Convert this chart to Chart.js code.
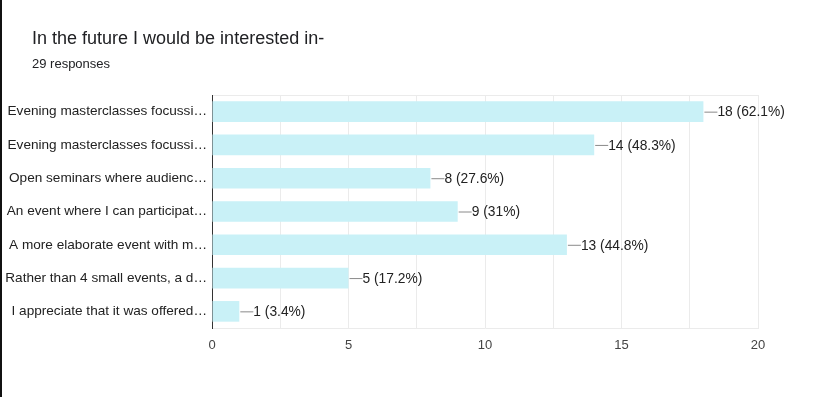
<!DOCTYPE html>
<html>
<head>
<meta charset="utf-8">
<script src="https://cdn.jsdelivr.net/npm/chart.js@4"></script>
<style>
  body { margin: 0; background: #fff; font-family: "Liberation Sans", Arial, sans-serif; }
  #wrap { position: relative; width: 835px; height: 397px; overflow: hidden; }
  #edge { position: absolute; left: 0; top: 0; width: 2px; height: 397px; background: #111; }
  #title { position: absolute; left: 32px; top: 28px; font-size: 18px; color: #202124; white-space: nowrap; }
  #sub { position: absolute; left: 32px; top: 56px; font-size: 13px; color: #202124; white-space: nowrap; }
  canvas { position: absolute; left: 0; top: 0; }
</style>
</head>
<body>
<div id="wrap">
  <canvas id="chart" width="835" height="397"></canvas>
  <div id="edge"></div>
  <div id="title">In the future I would be interested in-</div>
  <div id="sub">29 responses</div>
</div>
<script>
const categories = [
  "Evening masterclasses focussi\u2026",
  "Evening masterclasses focussi\u2026",
  "Open seminars where audienc\u2026",
  "An event where I can participat\u2026",
  "A more elaborate event with m\u2026",
  "Rather than 4 small events, a d\u2026",
  "I appreciate that it was offered\u2026"
];
const counts = [18, 14, 8, 9, 13, 5, 1];
const percents = ["62.1%", "48.3%", "27.6%", "31%", "44.8%", "17.2%", "3.4%"];
const xTicks = [0, 5, 10, 15, 20];

const fontFamily = '"Liberation Sans", Arial, sans-serif';

// draws the "—18 (62.1%)" labels after each bar
const barLabels = {
  id: "barLabels",
  afterDatasetsDraw(chart) {
    const ctx = chart.ctx;
    const meta = chart.getDatasetMeta(0);
    ctx.save();
    ctx.font = "13.8px " + fontFamily;
    ctx.textBaseline = "middle";
    meta.data.forEach((bar, i) => {
      const x = bar.x;
      const y = bar.y;
      ctx.strokeStyle = "#8a8a8a";
      ctx.lineWidth = 1;
      ctx.beginPath();
      ctx.moveTo(x + 1, y + 0.5);
      ctx.lineTo(x + 14, y + 0.5);
      ctx.stroke();
      ctx.fillStyle = "#222";
      ctx.fillText(counts[i] + " (" + percents[i] + ")", x + 14, y + 1);
    });
    ctx.restore();
  }
};

new Chart(document.getElementById("chart"), {
  type: "bar",
  data: {
    labels: categories,
    datasets: [
      {
        data: counts,
        backgroundColor: "#c9f1f7",
        borderWidth: 0,
        barPercentage: 0.62,
        categoryPercentage: 1
      }
    ]
  },
  options: {
    indexAxis: "y",
    responsive: false,
    animation: false,
    layout: { padding: { top: 95, right: 77, bottom: 0, left: 0 } },
    plugins: {
      legend: { display: false },
      tooltip: { enabled: false }
    },
    scales: {
      x: {
        min: 0,
        max: 20,
        afterFit: (scale) => { scale.height = 69; },
        ticks: {
          stepSize: 2.5,
          autoSkip: false,
          maxRotation: 0,
          padding: 10,
          color: "#444",
          font: { size: 13, family: fontFamily },
          callback: (v) => (xTicks.includes(v) ? v : "")
        },
        grid: { color: "#ebebeb", drawTicks: false },
        border: { color: "#ebebeb" }
      },
      y: {
        afterFit: (scale) => { scale.width = 212; },
        ticks: {
          padding: 5,
          color: "#222",
          font: { size: 13.6, family: fontFamily }
        },
        grid: {
          offset: true,
          drawTicks: false,
          color: (c) => (c.index === 0 || c.index === categories.length ? "#ebebeb" : "rgba(0,0,0,0)")
        },
        border: { color: "#333", width: 1 }
      }
    }
  },
  plugins: [barLabels]
});
</script>
</body>
</html>
